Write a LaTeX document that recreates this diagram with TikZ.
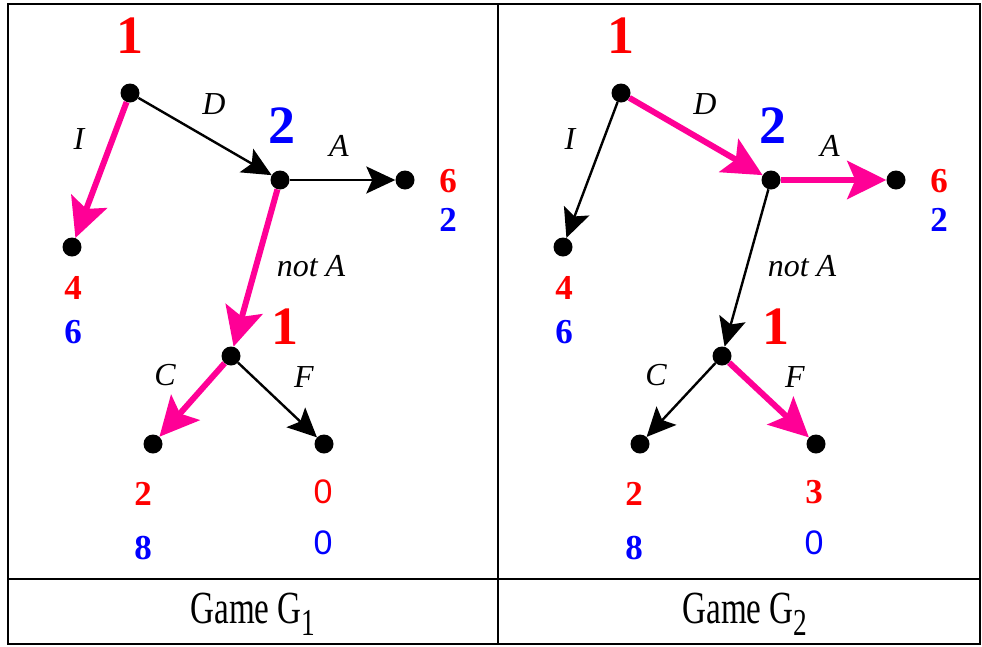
\documentclass[tikz,border=0pt]{standalone}
\usepackage{fontspec}
\usepackage{graphicx}
\setmainfont{Liberation Serif}
\setsansfont{Liberation Sans}
\usetikzlibrary{arrows.meta}
\definecolor{pinkmove}{RGB}{255,0,150}
\definecolor{redpl}{RGB}{255,0,0}
\definecolor{bluepl}{RGB}{0,0,255}
\tikzset{
  dot/.style={circle, fill=black, inner sep=0pt, minimum size=19pt},
  move/.style={line width=2.4pt, -{Stealth[length=29pt,width=27pt,inset=6pt]}},
  best/.style={line width=6pt, pinkmove, -{Stealth[length=39pt,width=38pt,inset=8pt]}},
  player/.style={font=\fontsize{54}{54}\selectfont\bfseries},
  lbl/.style={font=\fontsize{32}{32}\selectfont\itshape},
  pay/.style={font=\fontsize{35}{35}\selectfont\bfseries},
  payz/.style={font=\fontsize{34}{34}\selectfont\sffamily},
  caption/.style={font=\fontsize{46}{46}\selectfont}
}
\begin{document}
\begin{tikzpicture}[x=1pt, y=-1pt]
  \useasboundingbox (0,0) rectangle (982,646);
  % frame
  \draw[line width=1.5pt] (8,4) rectangle (980,644);
  \draw[line width=2.5pt] (8,4) -- (980,4);
  \draw[line width=1.5pt] (498,4) -- (498,644);
  \draw[line width=1.5pt] (8,579) -- (980,579);
  % game G1
  \begin{scope}
    \node[dot] (a-r) at (130,93) {};
    \node[dot] (a-i) at (72,247) {};
    \node[dot] (a-2) at (280,180) {};
    \node[dot] (a-a) at (405,180) {};
    \node[dot] (a-1) at (231,356) {};
    \node[dot] (a-c) at (153,444) {};
    \node[dot] (a-f) at (324,444) {};
    \draw[best] (a-r) -- (a-i);
    \draw[move] (a-r) -- (a-2);
    \draw[move] (a-2) -- (a-a);
    \draw[best] (a-2) -- (a-1);
    \draw[best] (a-1) -- (a-c);
    \draw[move] (a-1) -- (a-f);
    \node[player, redpl] (a-p1) at (130,36) {1};
    \node[player, bluepl] (a-p2) at (282,126) {2};
    \node[player, redpl] (a-p3) at (285,327) {1};
    \node[lbl] (a-li) at (79,139) {I};
    \node[lbl] (a-ld) at (214,104) {D};
    \node[lbl] (a-la) at (339,146) {A};
    \node[lbl] (a-ln) at (311,266) {not A};
    \node[lbl] (a-lc) at (165,375) {C};
    \node[lbl] (a-lf) at (304,377) {F};
    \node[pay, redpl] at (73,288) {4};
    \node[pay, bluepl] at (73,332) {6};
    \node[pay, redpl] at (448,181) {6};
    \node[pay, bluepl] at (448,220) {2};
    \node[pay, redpl] at (143,494) {2};
    \node[pay, bluepl] at (143,548) {8};
    \node[payz, redpl] at (323,492) {0};
    \node[payz, bluepl] at (323,543) {0};
    \node[caption] (a-cap) at (253,614) {\scalebox{0.72}[1]{Game G\raisebox{-12pt}{\fontsize{38}{38}\selectfont 1}}};
  \end{scope}
  % game G2
  \begin{scope}[xshift=491pt]
    \node[dot] (b-r) at (130,93) {};
    \node[dot] (b-i) at (72,247) {};
    \node[dot] (b-2) at (280,180) {};
    \node[dot] (b-a) at (405,180) {};
    \node[dot] (b-1) at (231,356) {};
    \node[dot] (b-c) at (149,444) {};
    \node[dot] (b-f) at (325,444) {};
    \draw[move] (b-r) -- (b-i);
    \draw[best] (b-r) -- (b-2);
    \draw[best] (b-2) -- (b-a);
    \draw[move] (b-2) -- (b-1);
    \draw[move] (b-1) -- (b-c);
    \draw[best] (b-1) -- (b-f);
    \node[player, redpl] (b-p1) at (130,36) {1};
    \node[player, bluepl] (b-p2) at (282,126) {2};
    \node[player, redpl] (b-p3) at (285,327) {1};
    \node[lbl] (b-li) at (79,139) {I};
    \node[lbl] (b-ld) at (214,104) {D};
    \node[lbl] (b-la) at (339,146) {A};
    \node[lbl] (b-ln) at (311,266) {not A};
    \node[lbl] (b-lc) at (165,375) {C};
    \node[lbl] (b-lf) at (304,377) {F};
    \node[pay, redpl] at (73,288) {4};
    \node[pay, bluepl] at (73,332) {6};
    \node[pay, redpl] at (448,181) {6};
    \node[pay, bluepl] at (448,220) {2};
    \node[pay, redpl] at (143,494) {2};
    \node[pay, bluepl] at (143,548) {8};
    \node[pay, redpl] at (323,492) {3};
    \node[payz, bluepl] at (323,543) {0};
    \node[caption] (b-cap) at (254,614) {\scalebox{0.72}[1]{Game G\raisebox{-12pt}{\fontsize{38}{38}\selectfont 2}}};
  \end{scope}
\end{tikzpicture}
\end{document}
